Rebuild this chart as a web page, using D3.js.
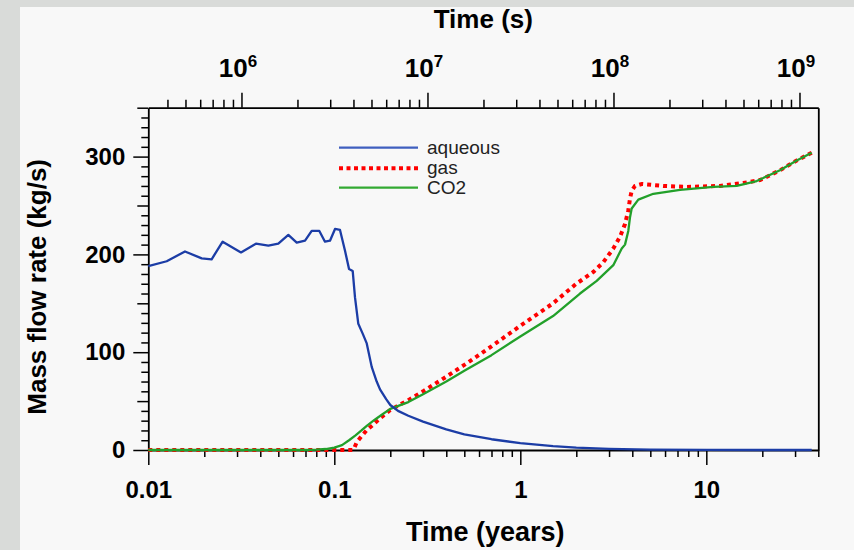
<!DOCTYPE html>
<html>
<head>
<meta charset="utf-8">
<script src="https://cdn.jsdelivr.net/npm/d3@7"></script>
<style>
  html, body { margin: 0; padding: 0; background: #d9dbd9; }
  svg { display: block; }
  text { font-family: "Liberation Sans", Arial, Helvetica, sans-serif; }
</style>
</head>
<body>
<svg id="chart" width="854" height="550"></svg>
<script>
// ---------- data ----------
const aqueousYears = [0.01, 0.01256, 0.01575, 0.01937, 0.0219, 0.0251, 0.0315, 0.0379, 0.0442, 0.05, 0.0566, 0.0628, 0.0696, 0.0756, 0.0831, 0.0891, 0.0948, 0.1009, 0.1073, 0.1141, 0.12, 0.1256, 0.1292, 0.1346, 0.1421, 0.1494, 0.1589, 0.169, 0.1761, 0.19, 0.2, 0.22, 0.25, 0.3, 0.4, 0.5, 0.7, 1.0, 1.5, 2, 3, 5, 10, 20, 36.87];
const aqueousValues = [188, 193, 203, 196, 195, 213, 202, 211, 209, 211, 220, 212, 214, 224, 224, 213, 214, 226, 225, 204, 185, 183, 156, 129, 119, 109, 85, 70, 62, 52, 46, 40, 35, 29, 21, 16, 11, 7, 4, 2.5, 1.2, 0.4, 0.1, 0, 0];

const gasYears = [0.01, 0.125, 0.128, 0.132, 0.14, 0.149, 0.162, 0.175, 0.2, 0.25, 0.3, 0.4, 0.5, 0.7, 1.0, 1.5, 2.0, 2.47, 2.794, 3.162, 3.436, 3.655, 3.807, 3.888, 3.97, 4.136, 4.496, 5.873, 7.846, 11.85, 15.81, 19.44, 24.9, 30.62, 36.87];
const gasValues = [0, 0, 2, 8, 14, 20, 26, 32, 41, 51, 60, 75, 87, 106, 127, 150, 170, 182, 192, 206, 218, 231, 245, 257, 265, 270, 272, 270, 269, 270, 273, 276, 286, 296, 304];

const co2Years = [0.01, 0.07, 0.08, 0.09, 0.1, 0.11, 0.12, 0.13, 0.14, 0.15, 0.165, 0.18, 0.2, 0.25, 0.3, 0.4, 0.5, 0.7, 1.0, 1.5, 2.094, 2.575, 3.162, 3.51, 3.655, 3.807, 3.888, 3.97, 4.31, 5.19, 7.222, 10.9, 14.57, 18.66, 24.9, 30.62, 36.87];
const co2Values = [0, 0, 0.3, 1, 2.5, 5, 10, 15, 20, 25, 31, 36, 42, 49, 57, 70, 81, 97, 116, 137, 160, 173, 189, 206, 210, 224, 238, 247, 256, 262, 266, 269, 270, 275, 286, 296, 304];

const seriesNames = ["aqueous", "gas", "CO2"];
const xMajorTicks = [0.01, 0.1, 1, 10];
const xTickLabels = ["0.01", "0.1", "1", "10"];
const yMajorTicks = [0, 100, 200, 300];
const topMajorTicks = [1e6, 1e7, 1e8, 1e9];
const topTickExponents = ["6", "7", "8", "9"];
const secondsPerYear = 3.15576e7;

// ---------- layout ----------
const W = 854, H = 550;
const plot = { left: 148.3, right: 818.3, top: 107.7, bottom: 450 };
const colors = { aqueous: "#1c3da6", gas: "#ff0000", co2: "#22a02a" };

const svg = d3.select("#chart");
svg.append("rect").attr("x", 20).attr("y", 7).attr("width", W - 20).attr("height", H - 7).attr("fill", "#f8f8f8");

const x = d3.scaleLog().domain([0.01, 40]).range([plot.left, plot.right]);
const xs = d3.scaleLog().domain([0.01 * secondsPerYear, 40 * secondsPerYear]).range([plot.left, plot.right]);
const y = d3.scaleLinear().domain([0, 350]).range([plot.bottom, plot.top]);

// minor tick lists
const xMinor = [];
for (let e = -2; e <= 1; e++) for (let k = 2; k <= 9; k++) { const v = k * Math.pow(10, e); if (v <= 40 + 1e-9) xMinor.push(v); }
const topMinor = [];
for (let e = 5; e <= 8; e++) for (let k = 2; k <= 9; k++) { const v = k * Math.pow(10, e); if (v >= xs.domain()[0] && v <= xs.domain()[1]) topMinor.push(v); }
const yMinor = d3.range(0, 351, 10).filter(v => v % 50 !== 0);
const yMid = [50, 150, 250, 350];

function styleAxis(g, width) {
  g.selectAll("path.domain").attr("stroke", "#000").attr("stroke-width", width || 1.8);
  g.selectAll(".tick line").attr("stroke", "#000").attr("stroke-width", 1.5);
}

// ---------- bottom axis ----------
const gxMinor = svg.append("g").attr("transform", `translate(0,${plot.bottom})`)
  .call(d3.axisBottom(x).tickValues(xMinor).tickSize(7).tickSizeOuter(0).tickFormat(""));
gxMinor.select("path.domain").remove(); styleAxis(gxMinor);
const gx = svg.append("g").attr("transform", `translate(0,${plot.bottom})`)
  .call(d3.axisBottom(x).tickValues(xMajorTicks).tickSize(15).tickSizeOuter(0)
    .tickFormat((d, i) => xTickLabels[i]).tickPadding(16));
styleAxis(gx);
gx.selectAll("text").attr("font-size", 24).attr("font-weight", "bold").attr("fill", "#000").attr("dy", "0.71em");

// ---------- top axis (seconds) ----------
const gtMinor = svg.append("g").attr("transform", `translate(0,${plot.top})`)
  .call(d3.axisTop(xs).tickValues(topMinor).tickSize(8).tickSizeOuter(0).tickFormat(""));
gtMinor.select("path.domain").remove(); styleAxis(gtMinor);
const gt = svg.append("g").attr("transform", `translate(0,${plot.top})`)
  .call(d3.axisTop(xs).tickValues(topMajorTicks).tickSize(15).tickSizeOuter(0).tickFormat(() => "10").tickPadding(16));
styleAxis(gt);
gt.selectAll("text").attr("font-size", 26).attr("font-weight", "bold").attr("fill", "#000")
  .attr("text-anchor", "middle").attr("dx", "-4")
  .append("tspan").attr("font-size", 17).attr("dy", "-0.6em").text((d, i) => topTickExponents[i]);

// ---------- left axis ----------
const gyMinor = svg.append("g").attr("transform", `translate(${plot.left},0)`)
  .call(d3.axisLeft(y).tickValues(yMinor).tickSize(7).tickSizeOuter(0).tickFormat(""));
gyMinor.select("path.domain").remove(); styleAxis(gyMinor);
const gyMid = svg.append("g").attr("transform", `translate(${plot.left},0)`)
  .call(d3.axisLeft(y).tickValues(yMid).tickSize(11).tickSizeOuter(0).tickFormat(""));
gyMid.select("path.domain").remove(); styleAxis(gyMid);
const gy = svg.append("g").attr("transform", `translate(${plot.left},0)`)
  .call(d3.axisLeft(y).tickValues(yMajorTicks).tickSize(15).tickSizeOuter(0).tickPadding(8));
styleAxis(gy);
gy.selectAll("text").attr("font-size", 24).attr("font-weight", "bold").attr("fill", "#000");

// ---------- right axis (plain) ----------
const gr = svg.append("g").attr("transform", `translate(${plot.right},0)`)
  .call(d3.axisRight(y).tickValues([]).tickSizeOuter(0));
styleAxis(gr);

// ---------- axis titles ----------
svg.append("text").attr("x", (plot.left + plot.right) / 2).attr("y", 27.5)
  .attr("text-anchor", "middle").attr("font-size", 26).attr("font-weight", "bold").text("Time (s)");
svg.append("text").attr("x", (plot.left + plot.right) / 2 + 2).attr("y", 541)
  .attr("text-anchor", "middle").attr("font-size", 27).attr("font-weight", "bold").text("Time (years)");
svg.append("text").attr("transform", `translate(46,${(plot.top + plot.bottom) / 2 + 8}) rotate(-90)`)
  .attr("text-anchor", "middle").attr("font-size", 26).attr("font-weight", "bold").text("Mass flow rate (kg/s)");

// ---------- lines ----------
const line = d3.line().x(d => x(d[0])).y(d => y(d[1]));
const gasData = d3.zip(gasYears, gasValues);
const co2Data = d3.zip(co2Years, co2Values);
const aqData = d3.zip(aqueousYears, aqueousValues);

svg.append("path").datum(gasData).attr("d", line).attr("fill", "none")
  .attr("stroke", colors.gas).attr("stroke-width", 4).attr("stroke-dasharray", "4,4");
svg.append("path").datum(co2Data).attr("d", line).attr("fill", "none")
  .attr("stroke", colors.co2).attr("stroke-width", 2.3).attr("stroke-linejoin", "round");
svg.append("path").datum(aqData).attr("d", line).attr("fill", "none")
  .attr("stroke", colors.aqueous).attr("stroke-width", 2.3).attr("stroke-linejoin", "round");

// ---------- legend ----------
const legendItems = [
  { name: seriesNames[0], color: "#3f5fbf", width: 2.3, dash: null, y: 147.7 },
  { name: seriesNames[1], color: colors.gas, width: 4, dash: "4,3.5", y: 168.3 },
  { name: seriesNames[2], color: "#33aa33", width: 2.3, dash: null, y: 187.7 }
];
const lg = svg.append("g");
legendItems.forEach(it => {
  lg.append("line").attr("x1", 339).attr("x2", 418).attr("y1", it.y).attr("y2", it.y)
    .attr("stroke", it.color).attr("stroke-width", it.width).attr("stroke-dasharray", it.dash);
  lg.append("text").attr("x", 427).attr("y", it.y + 6).attr("font-size", 19).attr("fill", "#222").text(it.name);
});
</script>
</body>
</html>
